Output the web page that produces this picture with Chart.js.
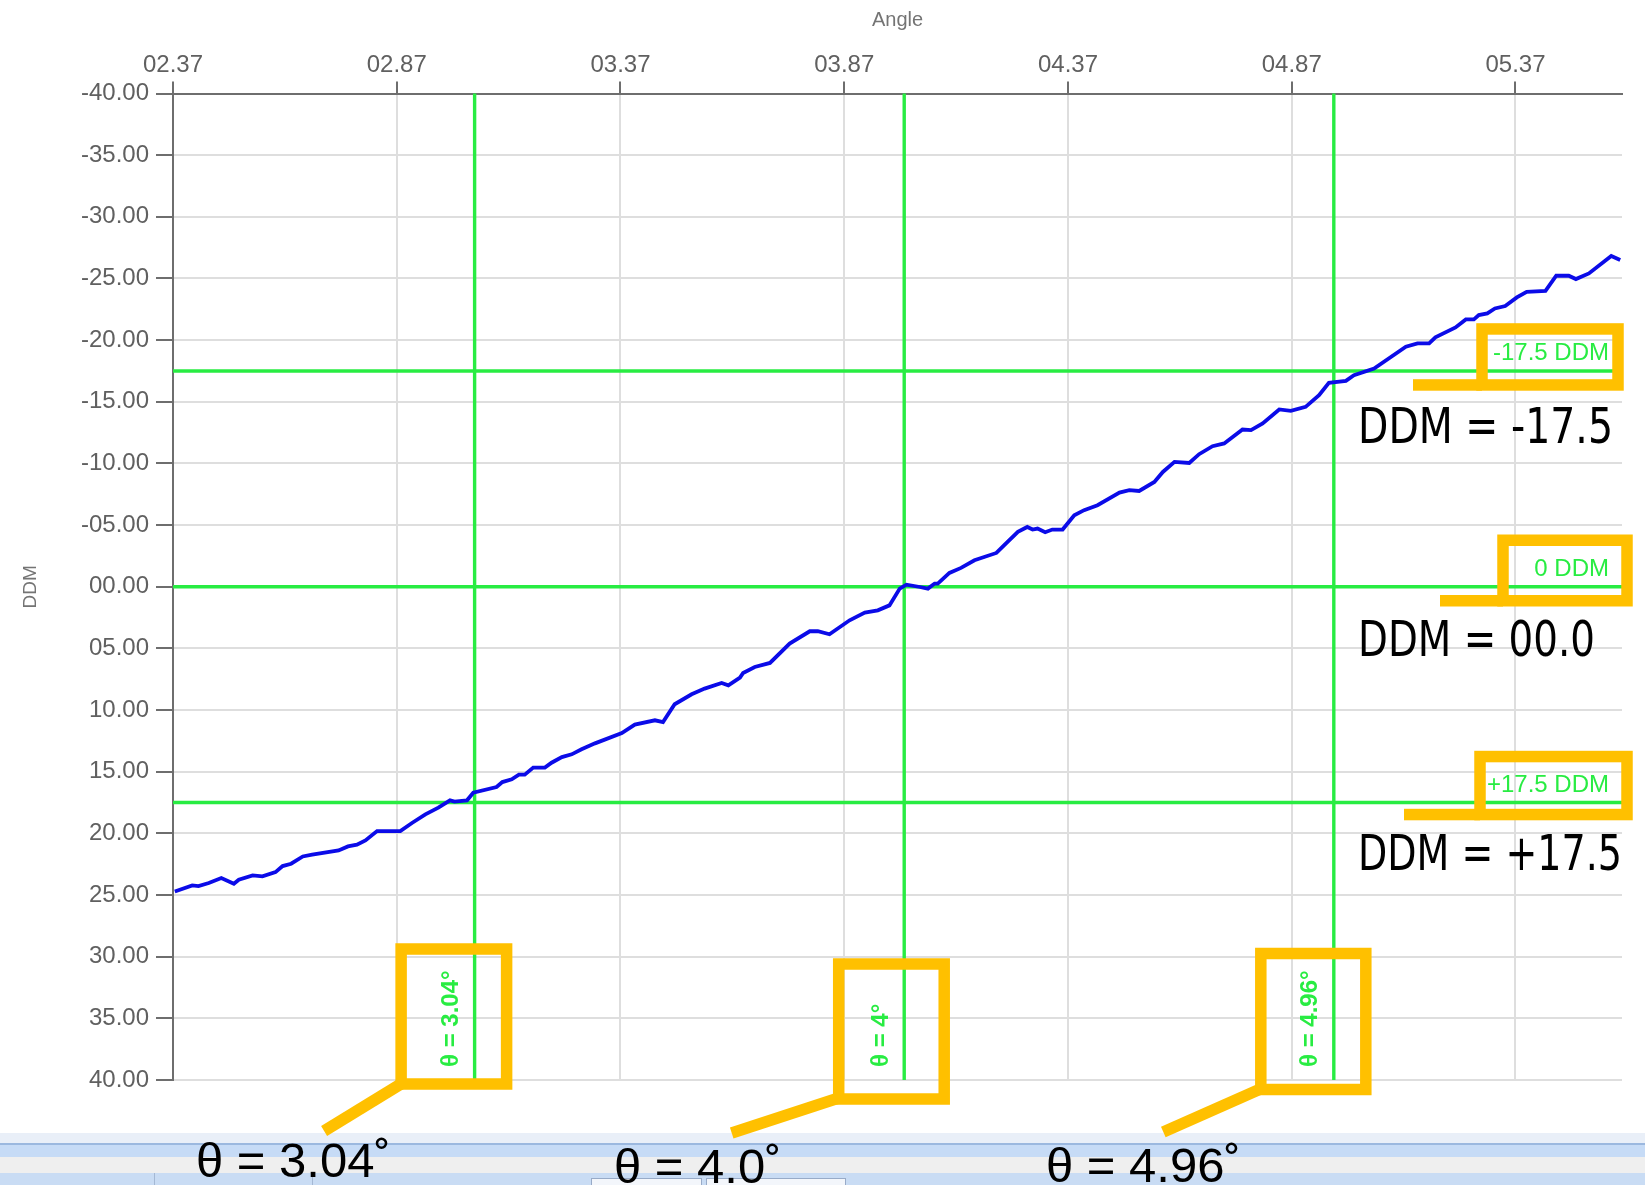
<!DOCTYPE html>
<html>
<head>
<meta charset="utf-8">
<script src="https://cdn.jsdelivr.net/npm/chart.js@4.4.1/dist/chart.umd.min.js"></script>
<style>
html, body { margin: 0; padding: 0; background: #fff; overflow: hidden; }
</style>
</head>
<body>
<canvas id="ddmChart" width="1645" height="1185"></canvas>
<script>
// axis ticks (labels are shown rounded to 2 decimals)
var angleTicks = [2.366, 2.866, 3.366, 3.866, 4.366, 4.866, 5.366];
var ddmTicks = [-40, -35, -30, -25, -20, -15, -10, -5, 0, 5, 10, 15, 20, 25, 30, 35, 40];

// measured curve (angle in deg, DDM)
var angles = [2.370, 2.409, 2.423, 2.446, 2.474, 2.502, 2.513, 2.544, 2.566, 2.595,
  2.611, 2.630, 2.656, 2.677, 2.736, 2.757, 2.777, 2.796, 2.822, 2.874,
  2.900, 2.930, 2.959, 2.985, 2.995, 3.023, 3.037, 3.089, 3.102, 3.123,
  3.139, 3.152, 3.171, 3.197, 3.212, 3.235, 3.257, 3.279, 3.309, 3.369,
  3.398, 3.443, 3.461, 3.487, 3.525, 3.554, 3.592, 3.607, 3.633, 3.640,
  3.666, 3.700, 3.744, 3.789, 3.807, 3.833, 3.878, 3.912, 3.941, 3.967,
  3.990, 4.005, 4.035, 4.053, 4.068, 4.075, 4.101, 4.127, 4.157, 4.206,
  4.227, 4.254, 4.275, 4.287, 4.298, 4.315, 4.331, 4.354, 4.380, 4.402,
  4.432, 4.481, 4.503, 4.525, 4.559, 4.578, 4.604, 4.637, 4.659, 4.689,
  4.715, 4.756, 4.775, 4.801, 4.838, 4.864, 4.897, 4.927, 4.949, 4.987,
  5.005, 5.050, 5.121, 5.147, 5.173, 5.187, 5.232, 5.255, 5.273, 5.284,
  5.303, 5.320, 5.343, 5.369, 5.391, 5.433, 5.457, 5.485, 5.501, 5.530,
  5.580, 5.600];
var ddm = [24.71, 24.22, 24.27, 24.03, 23.62, 24.08, 23.76, 23.41, 23.49, 23.14,
  22.65, 22.46, 21.87, 21.73, 21.38, 21.06, 20.92, 20.57, 19.81, 19.81,
  19.16, 18.46, 17.91, 17.32, 17.43, 17.32, 16.70, 16.24, 15.84, 15.62,
  15.24, 15.24, 14.67, 14.67, 14.27, 13.81, 13.59, 13.18, 12.70, 11.86,
  11.18, 10.83, 10.97, 9.53, 8.72, 8.26, 7.80, 7.99, 7.37, 6.99,
  6.51, 6.18, 4.61, 3.61, 3.61, 3.85, 2.72, 2.10, 1.91, 1.51,
  0.15, -0.17, 0.02, 0.15, -0.26, -0.26, -1.12, -1.53, -2.15, -2.74,
  -3.50, -4.45, -4.85, -4.64, -4.72, -4.42, -4.64, -4.64, -5.80, -6.21,
  -6.61, -7.64, -7.83, -7.77, -8.50, -9.31, -10.13, -10.04, -10.75, -11.40,
  -11.62, -12.75, -12.70, -13.24, -14.38, -14.26, -14.59, -15.54, -16.54, -16.70,
  -17.16, -17.70, -19.46, -19.73, -19.73, -20.22, -21.03, -21.68, -21.68, -22.03,
  -22.17, -22.57, -22.76, -23.46, -23.92, -24.00, -25.22, -25.22, -24.95, -25.41,
  -26.82, -26.49];

// marker lines
var markerAngles = [3.04, 4.0, 4.96];
var markerAngleLabels = ['θ = 3.04°', 'θ = 4°', 'θ = 4.96°'];
var markerDdm = [-17.5, 0, 17.5];
var markerDdmLabels = ['-17.5 DDM', '0 DDM', '+17.5 DDM'];

// hand annotations
var noteAngleTexts = ['θ = 3.04˚', 'θ = 4.0˚', 'θ = 4.96˚'];
var noteDdmTexts = ['DDM = -17.5', 'DDM = 00.0', 'DDM = +17.5'];

var GREEN = 'rgb(40,236,66)';
var ORANGE = '#ffc000';

function pad2(n) {
  return (n < 10 ? '0' : '') + n;
}
function fmtAngle(v) {
  var s = v.toFixed(2);
  return v < 10 ? '0' + s : s;
}
function fmtDdm(v) {
  var a = Math.abs(v);
  return (v < 0 ? '-' : '') + pad2(a) + '.00';
}

// callout boxes, offsets from the marker line pixels
var angleBoxes = [
  { l: -73.5, r: 32, t: 949, b: 1084, tx: -77, ty: 47 },
  { l: -65.5, r: 40, t: 964, b: 1099, tx: -107, ty: 34 },
  { l: -73, r: 32, t: 953.5, b: 1089.5, tx: -97.5, ty: 42.5 }
];
var ddmBoxes = [
  { l: -140, r: -4, t: -42, b: 14, tail: -209 },
  { l: -119, r: 5, t: -46.5, b: 14, tail: -182 },
  { l: -142, r: 5, t: -46, b: 12, tail: -218 }
];
var angleNotePos = [[196, 1177], [614, 1183], [1046, 1182]];
var ddmNoteShift = [72, 69, 67];
var ddmNoteWidth = [255, 237, 264];

var guides = {
  id: 'guides',
  beforeDraw: function (chart) {
    var ctx = chart.ctx;
    ctx.save();
    ctx.fillStyle = '#fff';
    ctx.fillRect(0, 0, chart.width, chart.height);
    // window strip along the bottom
    ctx.fillStyle = '#e9eff8';
    ctx.fillRect(0, 1133, chart.width, 10);
    ctx.fillStyle = '#9bb8df';
    ctx.fillRect(0, 1143, chart.width, 2);
    ctx.fillStyle = '#c6dbf6';
    ctx.fillRect(0, 1145, chart.width, 12);
    ctx.fillStyle = '#efefef';
    ctx.fillRect(0, 1157, chart.width, 16);
    ctx.fillStyle = '#c9dcf4';
    ctx.fillRect(0, 1173, chart.width, 12);
    ctx.strokeStyle = '#a4b8d4';
    ctx.lineWidth = 1;
    [154.5, 312.5].forEach(function (x) {
      ctx.beginPath(); ctx.moveTo(x, 1173); ctx.lineTo(x, 1185); ctx.stroke();
    });
    ctx.fillStyle = '#f3f6fb';
    ctx.strokeStyle = '#98abc8';
    [[591.5, 110], [706.5, 139]].forEach(function (t) {
      ctx.fillRect(t[0], 1178.5, t[1], 8);
      ctx.strokeRect(t[0], 1178.5, t[1], 8);
    });
    ctx.restore();
  },
  beforeDatasetsDraw: function (chart) {
    var ctx = chart.ctx, a = chart.chartArea;
    var xs = chart.scales.x, ys = chart.scales.y;
    ctx.save();
    ctx.strokeStyle = GREEN;
    ctx.lineWidth = 3.4;
    markerAngles.forEach(function (v) {
      var x = xs.getPixelForValue(v);
      ctx.beginPath(); ctx.moveTo(x, a.top); ctx.lineTo(x, a.bottom); ctx.stroke();
    });
    markerDdm.forEach(function (v) {
      var y = ys.getPixelForValue(v);
      ctx.beginPath(); ctx.moveTo(a.left, y); ctx.lineTo(a.right, y); ctx.stroke();
    });
    ctx.restore();
  },
  afterDatasetsDraw: function (chart) {
    var ctx = chart.ctx, a = chart.chartArea;
    var xs = chart.scales.x, ys = chart.scales.y;
    ctx.save();
    ctx.fillStyle = GREEN;
    ctx.font = '24px "Liberation Sans", Arial, sans-serif';
    ctx.textAlign = 'right';
    ctx.textBaseline = 'alphabetic';
    markerDdm.forEach(function (v, i) {
      ctx.fillText(markerDdmLabels[i], a.right - 13, ys.getPixelForValue(v) - 11);
    });
    ctx.font = 'bold 24px "Liberation Sans", Arial, sans-serif';
    ctx.textAlign = 'left';
    ctx.textBaseline = 'middle';
    markerAngles.forEach(function (v, i) {
      ctx.save();
      ctx.translate(xs.getPixelForValue(v) - 23, a.bottom - 13);
      ctx.rotate(-Math.PI / 2);
      ctx.fillText(markerAngleLabels[i], 0, 0);
      ctx.restore();
    });
    ctx.restore();
  },
  afterDraw: function (chart) {
    var ctx = chart.ctx, a = chart.chartArea;
    var xs = chart.scales.x, ys = chart.scales.y;
    ctx.save();
    ctx.strokeStyle = ORANGE;
    ctx.fillStyle = ORANGE;
    ctx.lineWidth = 11.5;
    ctx.lineJoin = 'miter';
    ctx.lineCap = 'butt';
    markerAngles.forEach(function (v, i) {
      var x = xs.getPixelForValue(v), bx = angleBoxes[i];
      var l = x + bx.l, r = x + bx.r;
      ctx.strokeRect(l, bx.t, r - l, bx.b - bx.t);
      ctx.beginPath();
      ctx.moveTo(l + 3, bx.b - 2);
      ctx.lineTo(l + bx.tx, bx.b + bx.ty);
      ctx.stroke();
    });
    markerDdm.forEach(function (v, i) {
      var y = ys.getPixelForValue(v), bx = ddmBoxes[i];
      var l = a.right + bx.l, r = a.right + bx.r;
      ctx.strokeRect(l, y + bx.t, r - l, bx.b - bx.t);
      ctx.fillRect(a.right + bx.tail, y + bx.b - 5.75, l - (a.right + bx.tail), 11.5);
    });
    // black notes
    ctx.fillStyle = '#000';
    ctx.textAlign = 'left';
    ctx.textBaseline = 'alphabetic';
    ctx.font = '50px "DejaVu Sans", sans-serif';
    markerDdm.forEach(function (v, i) {
      var w = ctx.measureText(noteDdmTexts[i]).width;
      ctx.save();
      ctx.translate(1358, ys.getPixelForValue(v) + ddmNoteShift[i]);
      ctx.scale(ddmNoteWidth[i] / w, 1);
      ctx.fillText(noteDdmTexts[i], 0, 0);
      ctx.restore();
    });
    ctx.font = '49px "Liberation Sans", sans-serif';
    noteAngleTexts.forEach(function (t, i) {
      ctx.fillText(t, angleNotePos[i][0], angleNotePos[i][1]);
    });
    ctx.restore();
  }
};

var points = angles.map(function (x, i) { return { x: x, y: ddm[i] }; });
var tickFont = { family: '"Liberation Sans", Arial, sans-serif', size: 24 };

var ctx = document.getElementById('ddmChart').getContext('2d');
var ddmChart = new Chart(ctx, {
  type: 'line',
  data: {
    datasets: [{
      data: points,
      borderColor: '#0b0be8',
      borderWidth: 3.8,
      pointRadius: 0,
      tension: 0,
      fill: false
    }]
  },
  options: {
    responsive: false,
    animation: false,
    layout: { padding: { left: 0, right: 23, top: 0, bottom: 105 } },
    plugins: { legend: { display: false }, tooltip: { enabled: false } },
    scales: {
      x: {
        type: 'linear',
        position: 'top',
        min: 2.366,
        max: 5.604,
        afterBuildTicks: function (scale) {
          scale.ticks = angleTicks.map(function (v) { return { value: v }; });
        },
        afterFit: function (scale) { scale.height = 93.5; },
        ticks: {
          autoSkip: false,
          maxRotation: 0,
          padding: 2,
          color: '#606060',
          font: tickFont,
          callback: function (v) { return fmtAngle(v); }
        },
        grid: { color: '#dedede', lineWidth: 2, tickColor: '#6e6e6e', tickLength: 12, tickWidth: 2 },
        border: { color: '#6e6e6e', width: 2 },
        title: {
          display: true,
          text: 'Angle',
          color: '#747474',
          font: { family: '"Liberation Sans", Arial, sans-serif', size: 20 },
          padding: { top: 8, bottom: 0 }
        }
      },
      y: {
        type: 'linear',
        reverse: true,
        min: -40,
        max: 40,
        afterBuildTicks: function (scale) {
          scale.ticks = ddmTicks.map(function (v) { return { value: v }; });
        },
        afterFit: function (scale) { scale.width = 173; },
        ticks: {
          autoSkip: false,
          padding: 7,
          color: '#606060',
          font: tickFont,
          callback: function (v) { return fmtDdm(v); }
        },
        grid: { color: '#dedede', lineWidth: 2, tickColor: '#6e6e6e', tickLength: 17, tickWidth: 2 },
        border: { color: '#6e6e6e', width: 2 },
        title: {
          display: true,
          text: 'DDM',
          color: '#747474',
          font: { family: '"Liberation Sans", Arial, sans-serif', size: 19 },
          padding: { top: 19.5, bottom: 0 }
        }
      }
    }
  },
  plugins: [guides]
});
</script>
</body>
</html>
